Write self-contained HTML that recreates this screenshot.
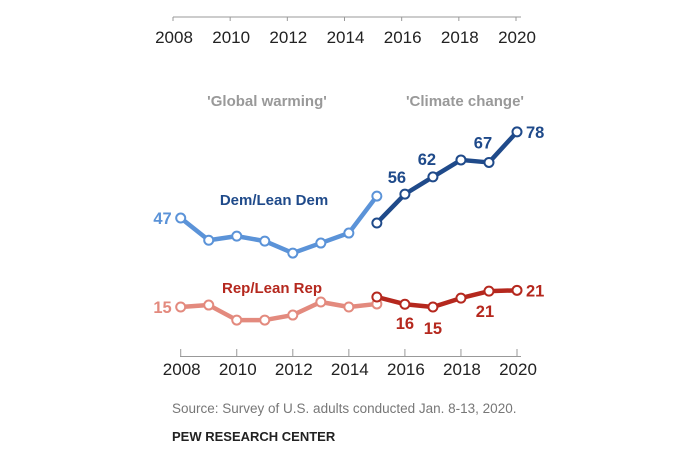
<!DOCTYPE html>
<html><head><meta charset="utf-8"><style>
body{margin:0;background:#fff;width:700px;height:452px;overflow:hidden;font-family:"Liberation Sans",sans-serif}
</style></head><body>
<svg id="c" width="700" height="452" xmlns="http://www.w3.org/2000/svg"></svg>
<script>
const years=[2008,2009,2010,2011,2012,2013,2014,2015,2016,2017,2018,2019,2020];
const tickYears=[2008,2010,2012,2014,2016,2018,2020];
const demGWYears=[2008,2009,2010,2011,2012,2013,2014,2015];
const demGW=[47,39,40.5,38.7,34.4,38,41.6,54.9];
const demCCYears=[2015,2016,2017,2018,2019,2020];
const demCC=[45.2,55.6,61.8,67.9,67,78];
const repGW=[15,15.7,10.3,10.3,12.1,16.8,15,16.1];
const repCC=[18.6,16,15,18.2,20.7,21];
const svg=document.getElementById('c');
const NS='http://www.w3.org/2000/svg';
const x=y=>180.7+(y-2008)*(517-180.7)/12;
const xt=y=>173+(y-2008)*(516-173)/12;
const yv=v=>348.7-v*2.78;
function mk(t,a,p){const e=document.createElementNS(NS,t);for(const k in a)e.setAttribute(k,a[k]);(p||svg).appendChild(e);return e;}
let g=mk('g',{});


mk('line',{x1:173,x2:521,y1:17,y2:17,stroke:'#999','stroke-width':1},g);
tickYears.forEach(t=>{mk('line',{x1:xt(t),x2:xt(t),y1:17,y2:21,stroke:'#999'},g);
const tx=mk('text',{x:xt(t)+1,y:43,'text-anchor':'middle','font-size':17,fill:'#222'},g);tx.textContent=t;});
g=mk('g',{});


mk('line',{x1:180,x2:521,y1:356.5,y2:356.5,stroke:'#999'},g);
tickYears.forEach(t=>{mk('line',{x1:x(t),x2:x(t),y1:349,y2:357,stroke:'#999'},g);
const tx=mk('text',{x:x(t)+1,y:375,'text-anchor':'middle','font-size':17,fill:'#222'},g);tx.textContent=t;});
function series(ys,vals,color,name){
const gg=mk('g',{});


mk('polyline',{points:ys.map((y,i)=>x(y)+','+yv(vals[i])).join(' '),fill:'none',stroke:color,'stroke-width':4.5,'stroke-linejoin':'round'},gg);
ys.forEach((y,i)=>{const c=mk('circle',{cx:x(y),cy:yv(vals[i]),r:4.5,fill:'#fff',stroke:color,'stroke-width':2},gg);

});}
series(demGWYears,demGW,'#5b93d8','dem-global-warming-line');
series(demCCYears,demCC,'#1f4a8a','dem-climate-change-line');
series(demGWYears,repGW,'#e38a7e','rep-global-warming-line');
series(demCCYears,repCC,'#b5281e','rep-climate-change-line');
function label(tx,xx,yy,color,anchor,size,name){const t=mk('text',{x:xx,y:yy,fill:color,'font-size':size||16,'font-weight':'bold','text-anchor':anchor||'middle'});t.textContent=tx;

}
label('47',x(2008)-9,yv(47)+6,'#5b93d8','end',16.5,'dem-label-2008');
label('56',x(2016)-8,yv(55.6)-11,'#1f4a8a','middle',16.5,'dem-label-2016');
label('62',x(2017)-6,yv(61.8)-12,'#1f4a8a','middle',16.5,'dem-label-2017');
label('67',x(2019)-6,yv(67)-14,'#1f4a8a','middle',16.5,'dem-label-2019');
label('78',x(2020)+9,yv(78)+6,'#1f4a8a','start',16.5,'dem-label-2020');
label('15',x(2008)-9,yv(15)+6,'#e38a7e','end',16.5,'rep-label-2008');
label('16',x(2016),yv(16)+25,'#b5281e','middle',16.5,'rep-label-2016');
label('15',x(2017),yv(15)+27,'#b5281e','middle',16.5,'rep-label-2017');
label('21',x(2019)-4,yv(20.7)+26,'#b5281e','middle',16.5,'rep-label-2019');
label('21',x(2020)+9,yv(21)+6,'#b5281e','start',16.5,'rep-label-2020');
label('Dem/Lean Dem',274,205,'#1f4a8a','middle',15,'dem-series-label');
label('Rep/Lean Rep',272,293,'#b5281e','middle',15,'rep-series-label');
label("'Global warming'",267,106,'#999','middle',15,'global-warming-label');
label("'Climate change'",465,106,'#999','middle',15,'climate-change-label');
let s=mk('text',{x:172,y:413,'font-size':13.5,fill:'#777'});s.textContent='Source: Survey of U.S. adults conducted Jan. 8-13, 2020.';

s=mk('text',{x:172,y:441,'font-size':13,fill:'#222','font-weight':'bold'});s.textContent='PEW RESEARCH CENTER';

</script>
</body></html>
